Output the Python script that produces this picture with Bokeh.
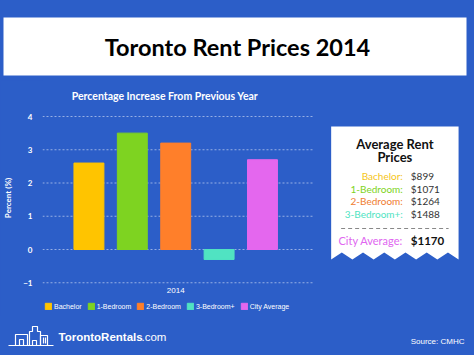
from bokeh.plotting import figure
from bokeh.layouts import column
from bokeh.models import (Label, FixedTicker, Range1d, ColumnDataSource, Legend, LegendItem)
from bokeh.core.properties import value
from bokeh.embed import file_html
from bokeh.resources import INLINE

# ---- data ----
categories = ["Bachelor", "1-Bedroom", "2-Bedroom", "3-Bedroom+", "City Average"]
increase = [2.6, 3.5, 3.2, -0.3, 2.7]
colors = ["#FFC400", "#7ED321", "#FF7F2A", "#50E3C2", "#E467EE"]
y_ticks = [-1, 0, 1, 2, 3, 4]
year_label = "2014"
rent_labels = ["Bachelor:", "1-Bedroom:", "2-Bedroom:", "3-Bedroom+:"]
rents = [899, 1071, 1264, 1488]
rent_colors = ["#F5C518", "#7ED321", "#F07C30", "#50E3C2"]
city_label = "City Average:"
city_avg = 1170
city_color = "#E066F0"

BLUE = "#2C5EC8"
W, H = 474, 355


def style_fig(f):
    f.background_fill_color = BLUE
    f.border_fill_color = BLUE
    f.outline_line_color = None
    f.frame_align = False
    return f


def deco(w, h):
    f = figure(width=w, height=h, output_backend="svg", toolbar_location=None,
               x_range=Range1d(0, w), y_range=Range1d(h, 0),
               x_axis_type=None, y_axis_type=None, min_border=0)
    f.xgrid.visible = False
    f.ygrid.visible = False
    return style_fig(f)


def txt(f, x, y, t, size, color="white", font="Lato", style="normal", align="center", **kw):
    f.text(x=[x], y=[y], text=[t], text_font=value(font), text_font_size=size,
           text_color=color, text_font_style=style, text_align=align,
           text_baseline="middle", **kw)


# ---- title band ----
tf = deco(W, 80)
tf.quad(left=[3], right=[466], top=[17], bottom=[75], color="white", line_color=None)
txt(tf, 237, 46, "Toronto Rent Prices 2014", "23.5px", color="black", style="bold")

# ---- chart + rent box (one figure, canvas rows 80..315) ----
MH = 235
TOP = 80
FL = 40
PXU_X = 43.59   # pixels per category step
PXU_Y = 33.25   # pixels per percent
ZERO_Y = 249    # canvas row of 0 %
X0 = -1.07
x_end = X0 + (W - FL) / PXU_X
y_top = (ZERO_Y - TOP) / PXU_Y
y_bot = -(TOP + MH - ZERO_Y) / PXU_Y
chart_right = X0 + (312 - FL) / PXU_X

p = figure(width=W, height=MH, output_backend="svg", toolbar_location=None,
           x_range=Range1d(X0, x_end), y_range=Range1d(y_bot, y_top),
           x_axis_location=None,
           min_border_left=FL, min_border_right=0, min_border_top=0, min_border_bottom=0)
style_fig(p)
p.extra_x_ranges = {"px": Range1d(FL, W)}
p.extra_y_ranges = {"py": Range1d(TOP + MH, TOP)}

# grid lines at the tick values, only under the chart part
p.xgrid.visible = False
p.ygrid.visible = False
p.segment(x0=[X0] * len(y_ticks), x1=[chart_right] * len(y_ticks), y0=y_ticks, y1=y_ticks,
          line_color="white", line_alpha=0.5, line_dash="2 2", line_width=1)

src = ColumnDataSource(dict(x=list(range(len(categories))), top=increase,
                            cat=categories, color=colors))
r = p.vbar(x="x", top="top", width=0.69, color="color", source=src)

ya = p.yaxis[0]
ya.ticker = FixedTicker(ticks=y_ticks)
ya.axis_line_color = None
ya.major_tick_line_color = None
ya.minor_tick_line_color = None
ya.major_label_text_color = "white"
ya.major_label_text_font = "Lato"
ya.major_label_text_font_style = "bold"
ya.major_label_text_font_size = "8px"
ya.major_label_standoff = 4
ya.axis_label = "Percent (%)"
ya.axis_label_text_color = "white"
ya.axis_label_text_font = "Lato"
ya.axis_label_text_font_style = "bold"
ya.axis_label_text_font_size = "8px"
ya.axis_label_standoff = 7

p.add_layout(Label(x=163, y=95, x_range_name="px", y_range_name="py",
                   text="Percentage Increase From Previous Year",
                   text_font="Lato", text_font_style="bold", text_font_size="10.5px",
                   text_color="white", text_align="center", text_baseline="middle"))
p.add_layout(Label(x=(len(categories) - 1) / 2, y=290, y_range_name="py", text=year_label,
                   text_font="Liberation Sans", text_font_size="8px",
                   text_color="white", text_align="center", text_baseline="middle"))

lg = Legend(items=[LegendItem(label=c, renderers=[r], index=i) for i, c in enumerate(categories)],
            orientation="horizontal", location=(2, 5),
            background_fill_alpha=0, border_line_color=None,
            padding=2, margin=0, spacing=5, glyph_width=8, glyph_height=8,
            label_height=8, label_standoff=2, label_text_color="white",
            label_text_font="Liberation Sans", label_text_font_size="7px")
p.add_layout(lg)

# rent box with zigzag bottom
bl, br, bt, bb, peak = 330, 458, 126, 259, 252
n = 6
step = (br - bl) / (2 * n)
zx = [bl, br]
zy = [bt, bt]
for k in range(2 * n + 1):
    zx.append(br - k * step)
    zy.append(bb if k % 2 == 0 else peak)
kw = dict(x_range_name="px", y_range_name="py")
p.patch(zx, zy, color="white", line_color=None, **kw)
txt(p, 394, 143, "Average Rent", "13px", color="#111111", style="bold", **kw)
txt(p, 394, 156, "Prices", "13px", color="#111111", style="bold", **kw)
row_y = [175, 188, 200, 213]
for yy, t, v, c in zip(row_y, rent_labels, rents, rent_colors):
    txt(p, 402, yy, t, "10px", color=c, align="right", **kw)
    txt(p, 410, yy, "$%d" % v, "10px", color="#333333", align="left", **kw)
p.line([340, 448], [228, 228], line_color="#888888", line_width=1, line_dash="4 3", **kw)
txt(p, 402, 240, city_label, "11px", color=city_color, align="right", **kw)
txt(p, 410, 240, "$%d" % city_avg, "11.5px", color="#111111", style="bold", align="left", **kw)

# ---- footer (canvas rows 315..355) ----
ff = deco(W, 40)
lw = 1.2
ff.line([8, 53], [30, 30], line_color="white", line_width=lw)
ff.line([15, 15, 27, 27], [30, 19, 19, 30], line_color="white", line_width=lw)
ff.line([19, 19, 23, 23], [30, 24, 24, 30], line_color="white", line_width=lw)
ff.line([29, 29, 32, 32, 37, 37, 40, 40], [30, 16, 16, 11, 11, 16, 16, 30],
        line_color="white", line_width=lw)
ff.line([32, 32, 36, 36], [30, 25, 25, 30], line_color="white", line_width=lw)
ff.line([40, 40, 47, 47], [30, 20, 20, 30], line_color="white", line_width=lw)
ff.line([43, 43], [22, 28], line_color="white", line_width=lw)
ff.line([45, 45], [22, 28], line_color="white", line_width=lw)
txt(ff, 58, 21, "TorontoRentals", "11.5px", font="Liberation Sans", style="bold", align="left")
txt(ff, 141, 21, ".com", "11.5px", font="Liberation Sans", align="left")
txt(ff, 464, 26, "Source: CMHC", "8px", font="Liberation Sans", align="right")

layout = column(tf, p, ff, spacing=0)
layout.styles = {"background-color": BLUE}
open("out.html", "w").write(file_html(layout, INLINE))
